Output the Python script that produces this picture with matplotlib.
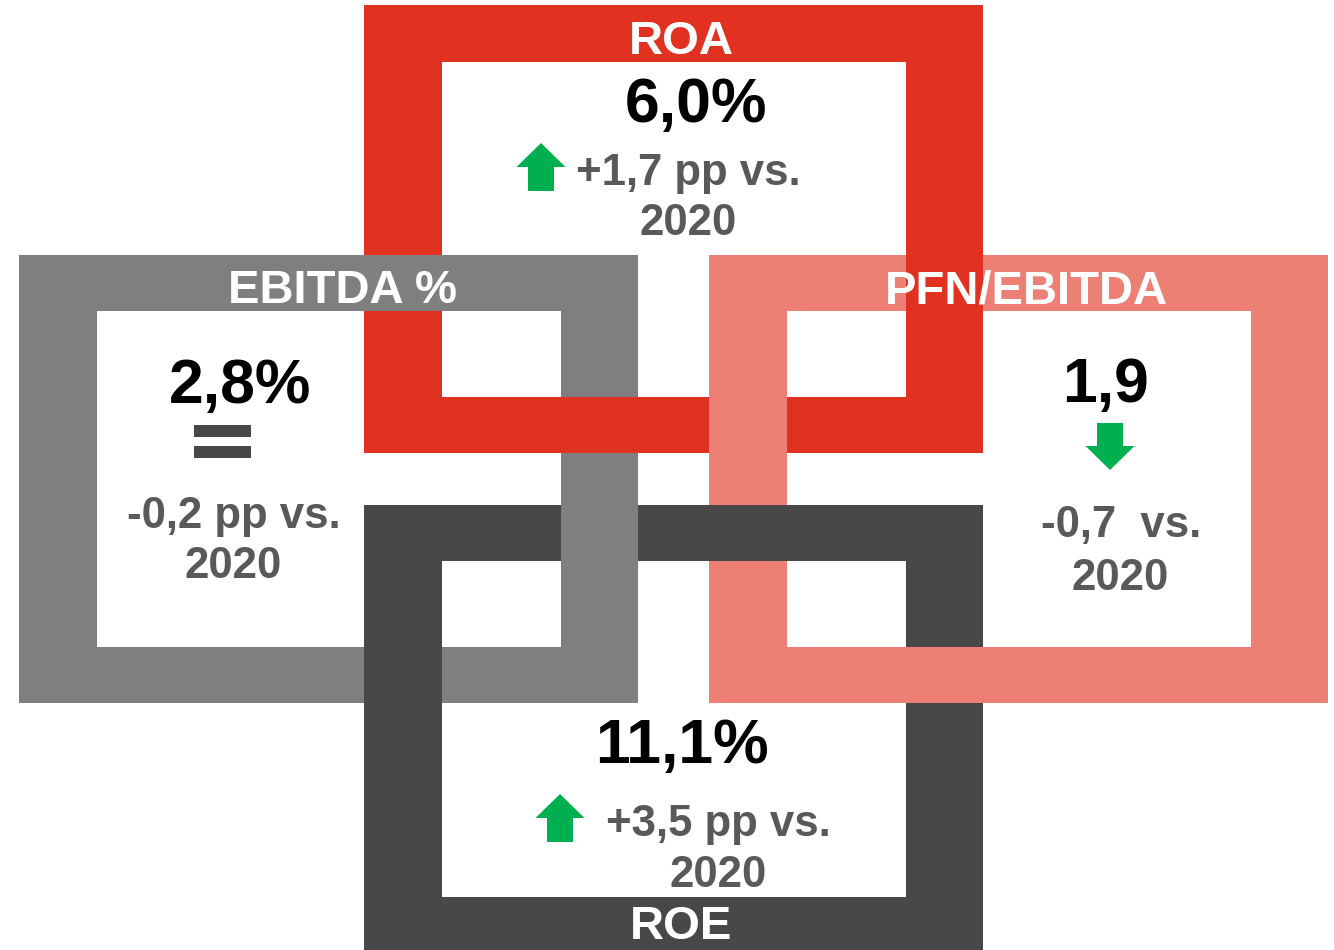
import matplotlib
matplotlib.use('Agg')
import matplotlib.pyplot as plt
from matplotlib.patches import Rectangle, Polygon

plt.rcParams['font.family'] = ['Liberation Sans', 'DejaVu Sans']

# KPI data
titles = ['ROA', 'EBITDA %', 'PFN/EBITDA', 'ROE']
values = ['6,0%', '2,8%', '1,9', '11,1%']
changes = ['+1,7 pp vs.', '-0,2 pp vs.', '-0,7  vs.', '+3,5 pp vs.']
years = ['2020', '2020', '2020', '2020']
trends = ['up', 'flat', 'down', 'up']

# layout (pixel coordinates, y pointing down)
frame_colors = ['#E03121', '#7F7F7F', '#EC8074', '#484848']
outer = [(364, 5, 983, 453), (19, 255, 638, 703), (709, 255, 1328, 703), (364, 505, 983, 950)]
inner = [(442, 62, 906, 397), (97, 311, 561, 647), (787, 311, 1251, 647), (442, 561, 906, 897)]
title_pos = [(681, 54), (343, 303), (1026, 303), (681, 939)]
value_pos = [(696, 122), (240, 403), (1106, 402), (682, 763)]
change_pos = [(688, 185), (234, 528), (1121, 537), (718, 836)]
year_pos = [(688, 235), (233, 578), (1120, 590), (718, 887)]
icon_pos = [(541, 143, 191), (222, 425, 458), (1110, 423, 470), (560, 794, 842)]

# which bar lies on top where two frames cross: (winner frame, side), (loser frame, side)
crossings = [((1, 'top'), (0, 'left')),
             ((0, 'bottom'), (1, 'right')),
             ((0, 'right'), (2, 'top')),
             ((2, 'left'), (0, 'bottom')),
             ((1, 'right'), (3, 'top')),
             ((3, 'left'), (1, 'bottom')),
             ((3, 'top'), (2, 'left')),
             ((2, 'bottom'), (3, 'right'))]

GREEN = '#00B050'
TEXT_GRAY = '#595959'


def bar_rect(i, side):
    x0, y0, x1, y1 = outer[i]
    ix0, iy0, ix1, iy1 = inner[i]
    if side == 'top':
        return (x0, y0, x1, iy0)
    if side == 'bottom':
        return (x0, iy1, x1, y1)
    if side == 'left':
        return (x0, y0, ix0, y1)
    return (ix1, y0, x1, y1)


def add_rect(ax, r, color, z):
    ax.add_patch(Rectangle((r[0], r[1]), r[2] - r[0], r[3] - r[1],
                           facecolor=color, edgecolor='none', zorder=z))


def draw_arrow(ax, cx, top, bottom, up=True):
    w, shaft, head = 49, 26, 24
    if up:
        pts = [(cx, top), (cx + w / 2, top + head), (cx + shaft / 2, top + head),
               (cx + shaft / 2, bottom), (cx - shaft / 2, bottom),
               (cx - shaft / 2, top + head), (cx - w / 2, top + head)]
    else:
        pts = [(cx, bottom), (cx + w / 2, bottom - head), (cx + shaft / 2, bottom - head),
               (cx + shaft / 2, top), (cx - shaft / 2, top),
               (cx - shaft / 2, bottom - head), (cx - w / 2, bottom - head)]
    ax.add_patch(Polygon(pts, closed=True, facecolor=GREEN, edgecolor='none', zorder=5))


fig = plt.figure(figsize=(13.34, 9.5), dpi=100)
ax = fig.add_axes([0, 0, 1, 1])
ax.set_xlim(0, 1334)
ax.set_ylim(950, 0)
ax.axis('off')

for i in range(4):
    for side in ['top', 'bottom', 'left', 'right']:
        add_rect(ax, bar_rect(i, side), frame_colors[i], 1)

for (wi, ws), (li, ls) in crossings:
    a = bar_rect(wi, ws)
    b = bar_rect(li, ls)
    r = (max(a[0], b[0]), max(a[1], b[1]), min(a[2], b[2]), min(a[3], b[3]))
    add_rect(ax, r, frame_colors[wi], 2)

for i in range(4):
    ax.text(*title_pos[i], titles[i], ha='center', va='baseline', fontsize=34,
            fontweight='bold', color='white', zorder=6)
    ax.text(*value_pos[i], values[i], ha='center', va='baseline', fontsize=45,
            fontweight='bold', color='black', zorder=6)
    ax.text(*change_pos[i], changes[i], ha='center', va='baseline', fontsize=31.5,
            fontweight='bold', color=TEXT_GRAY, zorder=6)
    ax.text(*year_pos[i], years[i], ha='center', va='baseline', fontsize=31.5,
            fontweight='bold', color=TEXT_GRAY, zorder=6)

    cx, top, bottom = icon_pos[i]
    if trends[i] == 'flat':
        # equals sign
        add_rect(ax, (cx - 28, top, cx + 29, top + 12), '#484848', 5)
        add_rect(ax, (cx - 28, bottom - 12, cx + 29, bottom), '#484848', 5)
    else:
        draw_arrow(ax, cx, top, bottom, up=(trends[i] == 'up'))

fig.savefig('out.png', dpi=100)
